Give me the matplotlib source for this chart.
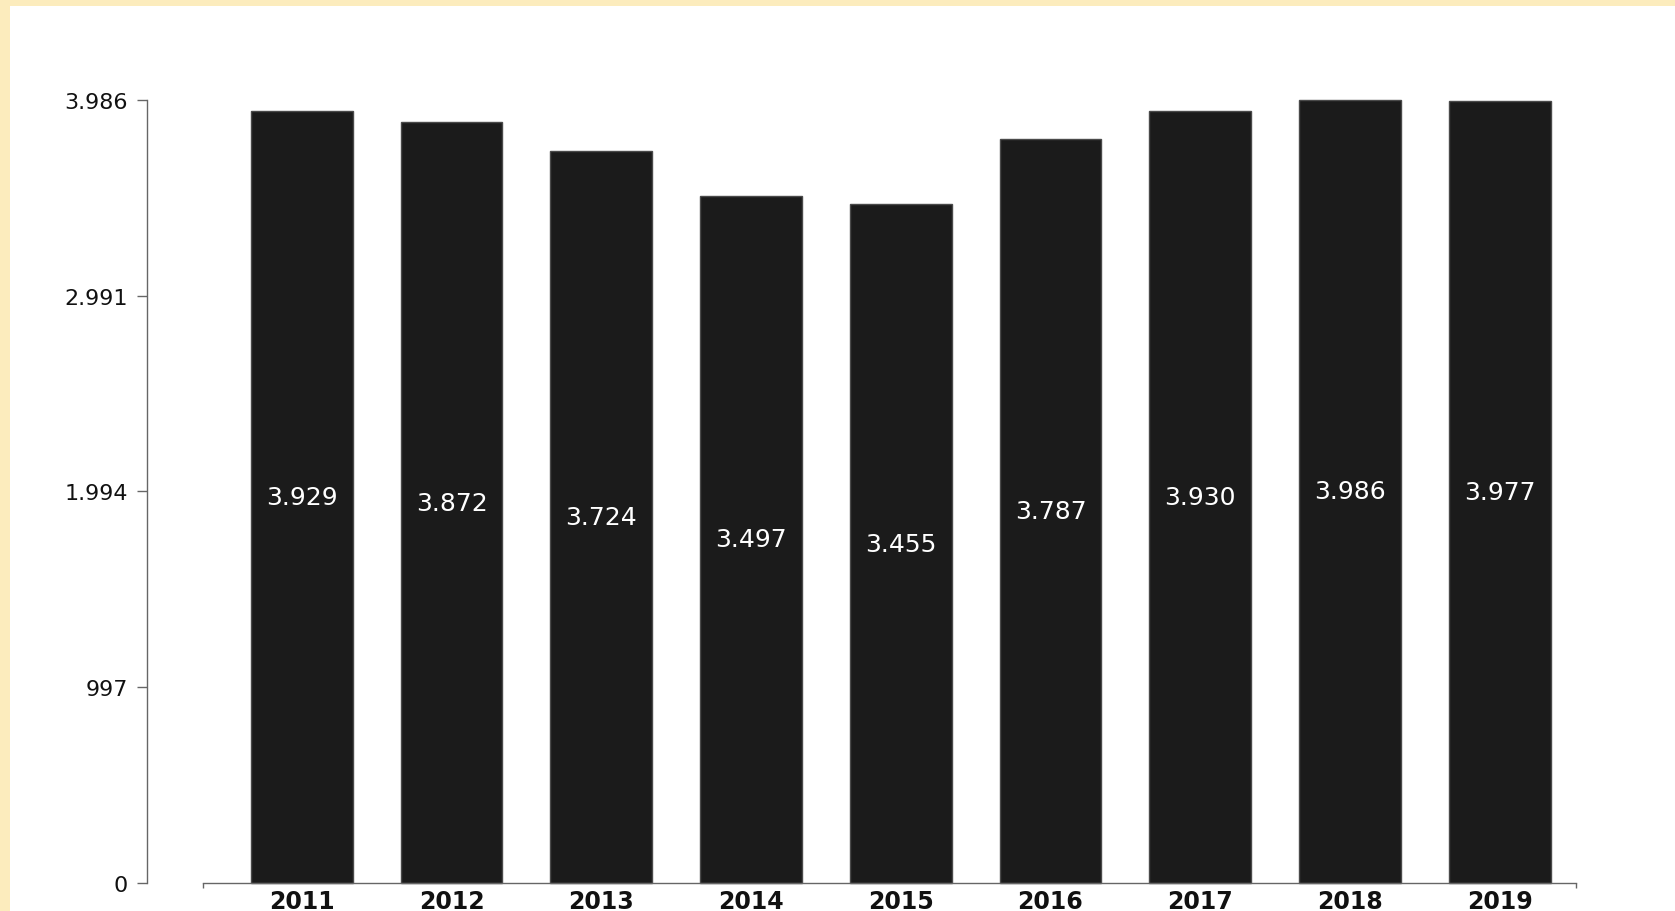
import matplotlib
matplotlib.use("Agg")
import matplotlib.pyplot as plt
from matplotlib.patches import Rectangle

years = ["2011", "2012", "2013", "2014", "2015", "2016", "2017", "2018", "2019"]
values = [3929, 3872, 3724, 3497, 3455, 3787, 3930, 3986, 3977]
value_labels = ["3.929", "3.872", "3.724", "3.497", "3.455", "3.787", "3.930", "3.986", "3.977"]
ytick_values = [0, 996.5, 1993, 2989.5, 3986]
ytick_labels = ["0", "997", "1.994", "2.991", "3.986"]

W, H = 1675, 912
DPI = 100
fig = plt.figure(figsize=(W / DPI, H / DPI), dpi=DPI)
fig.patch.set_facecolor("#FCECBD")
bg = Rectangle((10 / W, 0), 1 - 10 / W, 1 - 7 / H, transform=fig.transFigure,
               facecolor="white", edgecolor="none", zorder=-10)
fig.add_artist(bg)

# axes in pixel coordinates
x0, x1 = 203, 1576
ytop, ybot = 100.7, 884
ax = fig.add_axes([x0 / W, 1 - ybot / H, (x1 - x0) / W, (ybot - ytop) / H])
ax.set_facecolor("none")
ax.set_zorder(1)

pos = list(range(len(years)))
bars = ax.bar(pos, values, width=0.68, color="#1b1b1b", edgecolor="#4a4a4a",
              linewidth=1.0, clip_on=False, zorder=2)
for p, v, lab in zip(pos, values, value_labels):
    ax.text(p, v / 2, lab, ha="center", va="center", color="white",
            fontsize=18, family="DejaVu Sans", zorder=3)

ax.set_xlim(-0.66, 8.51)
ax.set_ylim(0, 3986)

for s in ["top", "right"]:
    ax.spines[s].set_visible(False)
ax.spines["left"].set_position(("outward", 40.3))
ax.spines["left"].set_color("#666666")
ax.spines["bottom"].set_color("#666666")
ax.spines["left"].set_linewidth(1.0)
ax.spines["bottom"].set_linewidth(1.0)

ax.set_yticks(ytick_values)
ax.set_yticklabels(ytick_labels, fontsize=16, family="DejaVu Sans", color="#111111")
ax.tick_params(axis="y", length=7, width=1.0, color="#666666", pad=7)

ax.set_xticks(pos)
ax.set_xticklabels(years, fontsize=17, fontweight="bold", family="DejaVu Sans", color="#111111")
ax.tick_params(axis="x", which="major", length=0, pad=4)
ax.set_xticks([-0.66, 8.51], minor=True)
ax.tick_params(axis="x", which="minor", length=3.5, width=1.0, color="#666666")

fig.savefig("out.png", dpi=DPI, facecolor=fig.get_facecolor())
